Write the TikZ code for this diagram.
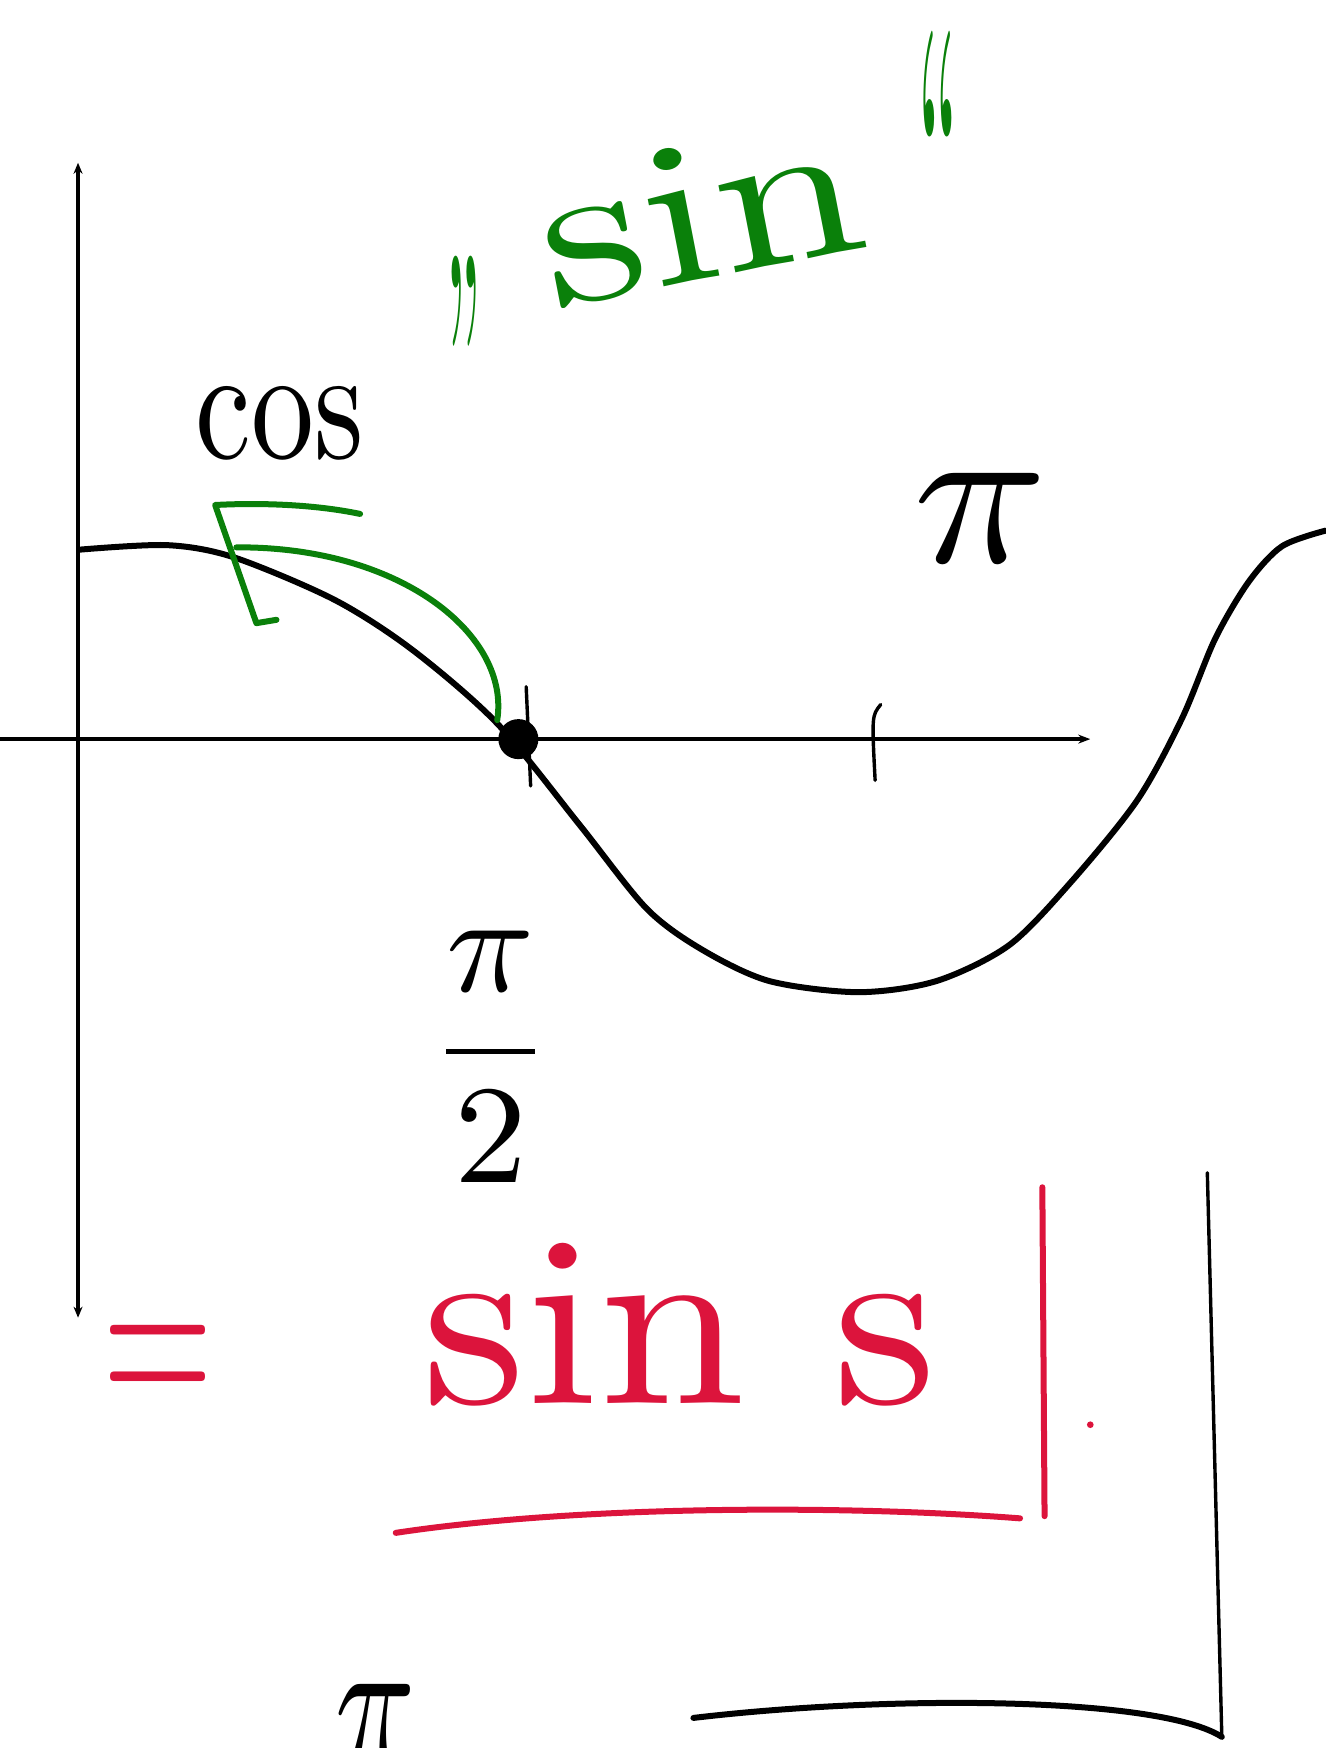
\documentclass[tikz,border=0pt]{standalone}
\usepackage{fontspec}
\usepackage{graphicx}
\usetikzlibrary{arrows.meta}
\definecolor{inkgreen}{RGB}{10,128,10}
\definecolor{inkred}{RGB}{220,20,60}
\begin{document}
\begin{tikzpicture}[x=1.1144pt,y=-1.1144pt,
  pen/.style={line width=3.4pt, line cap=round, line join=round},
  thickpen/.style={line width=6pt, line cap=round, line join=round},
  axisarrow/.style={-{Stealth[length=12pt,width=9pt]}},
  txt/.style={inner sep=0pt, outer sep=0pt}]
\useasboundingbox (0,0) rectangle (1189,1568);
\fill[white] (0,0) rectangle (1189,1568);

% axes
\coordinate (ytop) at (70,146);
\coordinate (ybot) at (70,1182);
\coordinate (xl) at (0,663);
\coordinate (xr) at (978,663);
\draw[pen, line cap=butt, {Stealth[length=11pt,width=9pt]}-{Stealth[length=11pt,width=9pt]}] (ybot) -- (ytop);
\draw[pen, line cap=butt, axisarrow] (xl) -- (xr);

% cosine curve
\draw[thickpen] plot[smooth, tension=0.5] coordinates {(72,493) (150,489) (210,500) (300,538) (370,583) (446,649) (520,740) (580,815) (630,852) (690,880) (770,890) (840,880) (905,848) (960,792) (1020,718) (1060,645) (1090,573) (1120,522) (1150,490) (1189,476)};

% zero point and ticks
\node[circle, fill=black, minimum size=40pt, inner sep=0pt] (zero) at (465,663) {};
\coordinate (t1a) at (472,616);
\coordinate (t1b) at (476,705);
\draw[pen] (t1a) -- (t1b);
\coordinate (t2a) at (790,632);
\coordinate (t2b) at (785,700);
\draw[pen] (t2a) .. controls (782,642) .. (t2b);

% green arrow
\coordinate (gstart) at (446,646);
\coordinate (gend) at (212,491);
\coordinate (ghead) at (193,453);
\coordinate (garm1) at (323,461);
\coordinate (garm2) at (248,556);
\draw[thickpen, inkgreen] (gstart) .. controls (458,570) and (360,490) .. (gend);
\draw[thickpen, inkgreen] (garm1) .. controls (280,452) and (230,451) .. (ghead) -- (230,559) -- (garm2);

% labels
\node[txt] (cos) at (251,380) {\resizebox{168pt}{72pt}{cos}};
\node[txt] (pi) at (880,465) {\resizebox{134pt}{89pt}{$\pi$}};
\node[txt] (pihalf) at (440,948) {\resizebox*{123pt}{251pt}{$\displaystyle\frac{\pi}{2}$}};
\node[txt, text=inkgreen] (qopen) at (416,270) {\resizebox*{36pt}{90pt}{„}};
\node[txt, text=inkgreen, rotate=11] (sin) at (628,190) {\resizebox{325pt}{135pt}{sin}};
\node[txt, text=inkgreen, anchor=north] (qclose) at (842,28) {\resizebox{42pt}{245pt}{“}};

% red result
\node[txt, text=inkred] (eq) at (142,1228) {\resizebox{111pt}{88pt}{=}};
\node[txt, text=inkred] (sins) at (610,1188) {\resizebox{513pt}{160pt}{sin s}};
\coordinate (bartop) at (935,1065);
\coordinate (barbot) at (937,1360);
\draw[thickpen, inkred] (bartop) -- (barbot);
\coordinate (ula) at (355,1375);
\coordinate (ulb) at (915,1362);
\draw[thickpen, inkred] (ula) .. controls (520,1350) and (760,1350) .. (ulb);
\fill[inkred] (978,1278) circle (3);

% black bracket at the bottom right
\coordinate (brtop) at (1083,1052);
\coordinate (brcorner) at (1096,1558);
\coordinate (brleft) at (622,1541);
\draw[pen] (brtop) -- (brcorner);
\draw[thickpen] (brleft) .. controls (800,1520) and (1040,1522) .. (brcorner);

% partial pi at the bottom
\node[txt] (pibottom) at (337,1552) {\resizebox{80pt}{92pt}{$\pi$}};
\end{tikzpicture}
\end{document}
